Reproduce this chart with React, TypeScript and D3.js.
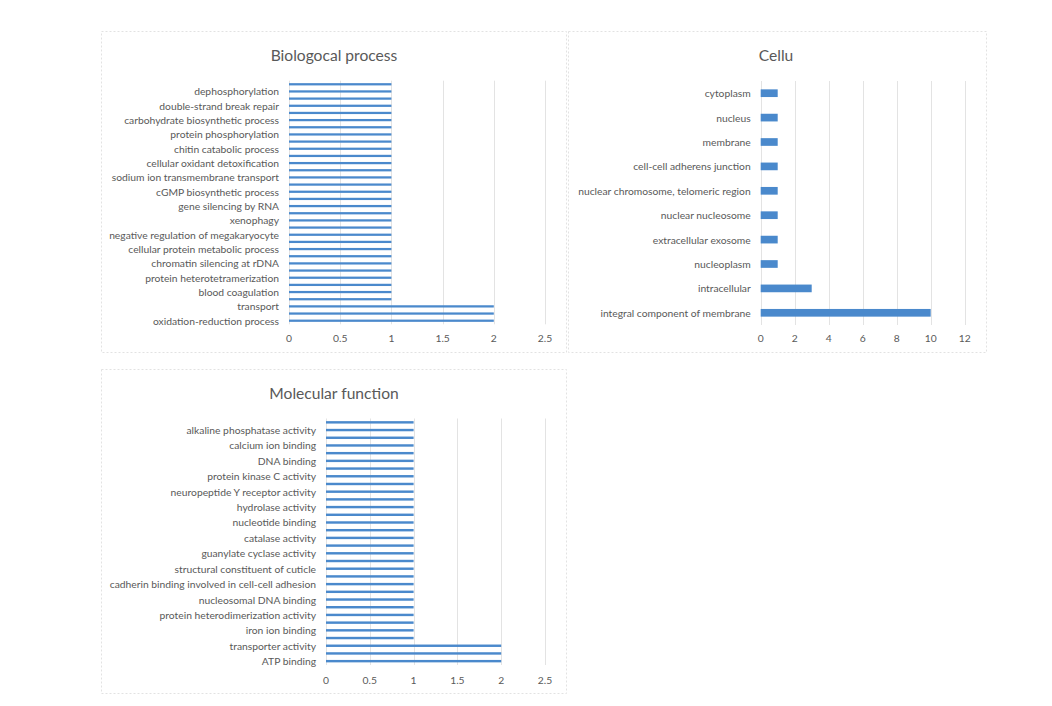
import React from "react";
import * as d3 from "d3";

// ---------- DATA ----------
// Biological process (bottom to top; Excel shows every other label)
const bpCategories = [
  "oxidation-reduction process", "",
  "transport", "",
  "blood coagulation", "",
  "protein heterotetramerization", "",
  "chromatin silencing at rDNA", "",
  "cellular protein metabolic process", "",
  "negative regulation of megakaryocyte", "",
  "xenophagy", "",
  "gene silencing by RNA", "",
  "cGMP biosynthetic process", "",
  "sodium ion transmembrane transport", "",
  "cellular oxidant detoxification", "",
  "chitin catabolic process", "",
  "protein phosphorylation", "",
  "carbohydrate biosynthetic process", "",
  "double-strand break repair", "",
  "dephosphorylation", "",
];
const bpValues = [
  2, 2, 2, 1, 1, 1, 1, 1, 1, 1, 1, 1, 1, 1, 1, 1, 1,
  1, 1, 1, 1, 1, 1, 1, 1, 1, 1, 1, 1, 1, 1, 1, 1, 1,
];
const bpTicks = [0, 0.5, 1, 1.5, 2, 2.5];

// Cellular component (bottom to top)
const ccCategories = [
  "integral component of membrane",
  "intracellular",
  "nucleoplasm",
  "extracellular exosome",
  "nuclear nucleosome",
  "nuclear chromosome, telomeric region",
  "cell-cell adherens junction",
  "membrane",
  "nucleus",
  "cytoplasm",
];
const ccValues = [10, 3, 1, 1, 1, 1, 1, 1, 1, 1];
const ccTicks = [0, 2, 4, 6, 8, 10, 12];

// Molecular function (bottom to top; every other label shown)
const mfCategories = [
  "ATP binding", "",
  "transporter activity", "",
  "iron ion binding", "",
  "protein heterodimerization activity", "",
  "nucleosomal DNA binding", "",
  "cadherin binding involved in cell-cell adhesion", "",
  "structural constituent of cuticle", "",
  "guanylate cyclase activity", "",
  "catalase activity", "",
  "nucleotide binding", "",
  "hydrolase activity", "",
  "neuropeptide Y receptor activity", "",
  "protein kinase C activity", "",
  "DNA binding", "",
  "calcium ion binding", "",
  "alkaline phosphatase activity", "",
];
const mfValues = [
  2, 2, 2, 1, 1, 1, 1, 1, 1, 1, 1, 1, 1, 1, 1, 1,
  1, 1, 1, 1, 1, 1, 1, 1, 1, 1, 1, 1, 1, 1, 1, 1,
];
const mfTicks = [0, 0.5, 1, 1.5, 2, 2.5];

// ---------- STYLE ----------
const FONT = "Lato, 'Open Sans', sans-serif";
const TEXT = "#595959";
const BAR = "#4a89cc";
const GRID = "#e3e3e3";
const BORDER = "#e2e2e2";

type PanelProps = {
  title: string;
  categories: string[];
  values: number[];
  ticks: number[];
  box: [number, number, number, number]; // x, y, w, h
  titleY: number;
  plot: [number, number, number, number]; // x0, x1, y0, y1
  tickY: number;
  titleX: number;
};

function Panel(p: PanelProps) {
  const [bx, by, bw, bh] = p.box;
  const [x0, x1, y0, y1] = p.plot;
  const xMax = p.ticks[p.ticks.length - 1];
  const x = d3.scaleLinear().domain([0, xMax]).range([x0, x1]);
  const idx = p.categories.map((_, i) => String(i));
  const y = d3
    .scaleBand<string>()
    .domain(idx)
    .range([y1, y0])
    .paddingInner(0.685)
    .paddingOuter(0.3425);
  const fmt = (v: number) => String(v);
  return (
    <g>
      <rect
        x={bx + 0.5}
        y={by + 0.5}
        width={bw}
        height={bh}
        fill="#fff"
        stroke={BORDER}
        strokeDasharray="2,2"
      />
      <text
        x={p.titleX}
        y={p.titleY}
        textAnchor="middle"
        dominantBaseline="central"
        fontFamily={FONT}
        fontSize={15.6}
        fill={TEXT}
      >
        {p.title}
      </text>
      {p.ticks.map((t) => (
        <line
          key={"g" + t}
          x1={Math.round(x(t)) + 0.5}
          x2={Math.round(x(t)) + 0.5}
          y1={y0}
          y2={y1}
          stroke={GRID}
          strokeWidth={1}
        />
      ))}
      {p.values.map((v, i) => (
        <rect
          key={"b" + i}
          x={x(0)}
          y={y(String(i))}
          width={x(v) - x(0)}
          height={y.bandwidth()}
          fill={BAR}
        />
      ))}
      {p.categories.map((c, i) =>
        c ? (
          <text
            key={"l" + i}
            x={x0 - 10}
            y={(y(String(i)) as number) + y.bandwidth() / 2}
            textAnchor="end"
            dominantBaseline="central"
            fontFamily={FONT}
            fontSize={10.3}
            fill={TEXT}
          >
            {c}
          </text>
        ) : null
      )}
      {p.ticks.map((t) => (
        <text
          key={"t" + t}
          x={x(t)}
          y={p.tickY}
          textAnchor="middle"
          dominantBaseline="central"
          fontFamily={FONT}
          fontSize={10.3}
          fill={TEXT}
        >
          {fmt(t)}
        </text>
      ))}
    </g>
  );
}

export default function App() {
  return (
    <svg
      width={1052}
      height={706}
      style={{ position: "absolute", left: 0, top: 0, background: "#fff" }}
    >
      <rect x={0} y={0} width={1052} height={706} fill="#fff" />
      <Panel
        title="Biologocal process"
        categories={bpCategories}
        values={bpValues}
        ticks={bpTicks}
        box={[101, 31, 465, 321]}
        titleX={334}
        titleY={55}
        plot={[289, 545, 80.7, 324.3]}
        tickY={338}
      />
      <Panel
        title="Cellu"
        categories={ccCategories}
        values={ccValues}
        ticks={ccTicks}
        box={[568, 31, 418, 321]}
        titleX={776}
        titleY={55}
        plot={[760.7, 964.7, 81, 325]}
        tickY={338}
      />
      <Panel
        title="Molecular function"
        categories={mfCategories}
        values={mfValues}
        ticks={mfTicks}
        box={[101, 369, 465, 324]}
        titleX={334}
        titleY={393}
        plot={[326, 545, 418.5, 665]}
        tickY={680}
      />
    </svg>
  );
}
